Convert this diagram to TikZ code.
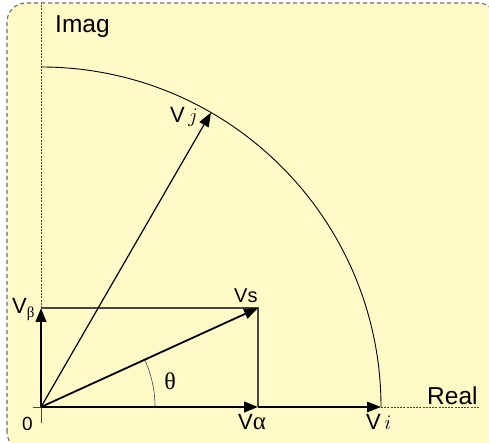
\documentclass[tikz,border=0pt]{standalone}
\usepackage{fontspec}
\setmainfont{Liberation Sans}
\newfontfamily\grk{Liberation Serif}
\usetikzlibrary{arrows.meta}
\definecolor{bgyellow}{RGB}{255,250,200}
\definecolor{bordergray}{RGB}{110,110,110}
\definecolor{rectgray}{RGB}{70,70,70}
\tikzset{
  head/.style={-{Triangle[length=14pt,width=10.5pt]}},
  vecthick/.style={head, line width=2.6pt},
  vecmid/.style={head, line width=1.8pt},
  vecthin/.style={head, line width=1.2pt},
  axisdash/.style={line width=0.7pt, rectgray, dash pattern=on 2pt off 1.2pt},
  rectline/.style={line width=1.4pt, rectgray},
  lbl/.style={inner sep=0pt, anchor=base west, font=\fontsize{22}{26}\selectfont},
  biglbl/.style={inner sep=0pt, anchor=base west, font=\fontsize{24.5}{28}\selectfont},
}
\begin{document}
\begin{tikzpicture}[x=1pt,y=1pt]
\clip (0,0) rectangle (489,443);
\useasboundingbox (0,0) rectangle (489,443);
% frame
\draw[fill=bgyellow, draw=bordergray, line width=1.1pt, dash pattern=on 4pt off 3pt, rounded corners=19pt]
  (7,-8) rectangle (497,440);
% key points
\coordinate (O) at (41,36);
\coordinate (B) at (41,135);
\coordinate (A) at (258,36);
\coordinate (S) at (258,135);
\coordinate (J) at (211,330.4);
\coordinate (I) at (381,36);
\coordinate (Ytop) at (41,440);
\coordinate (Ybot) at (41,20);
\coordinate (Xleft) at (33,36);
\coordinate (Xright) at (479,36);
% axes
\draw[axisdash] (B) -- (Ytop);
\draw[line width=0.6pt, rectgray] (O) -- (Ybot);
\draw[line width=0.6pt, rectgray] (Xleft) -- (O);
\draw[axisdash] (I) -- (Xright);
% circle arc
\draw[line width=0.9pt] (I) arc[start angle=0, end angle=90, radius=340];
% rectangle sides
\draw[rectline] (B) -- (S) -- (A);
% theta arc
\draw[line width=0.6pt, rectgray] (155,36) arc[start angle=0, end angle=24.5, radius=114];
% vectors
\draw[vecthin] (O) -- (J);
\draw[vecthin, line width=1.5pt] (A) -- (I);
\draw[vecmid] (O) -- (S);
\draw[vecthick] (O) -- (B);
\draw[vecthick] (O) -- (A);
% labels
\node[biglbl] (imag) at (55,410) {Imag};
\node[biglbl] (real) at (427,38) {Real};
\node[lbl, font=\fontsize{19}{22}\selectfont] (zero) at (22,12) {0};
\node[lbl] (vb) at (12,129) {V\raisebox{-4pt}{\grk\fontsize{15}{18}\selectfont β}};
\node[lbl, font=\fontsize{20}{24}\selectfont] (vs) at (234,140) {Vs};
\node[lbl] (va) at (238,13) {V{\grk\fontsize{25}{28}\selectfont α}};
\node[lbl] (vi) at (366,13) {V$\,i$};
\node[lbl] (vj) at (170,320) {V$\,j$};
\node[inner sep=0pt, font=\grk\fontsize{24}{26}\selectfont] (th) at (170,62) {θ};
\end{tikzpicture}
\end{document}
